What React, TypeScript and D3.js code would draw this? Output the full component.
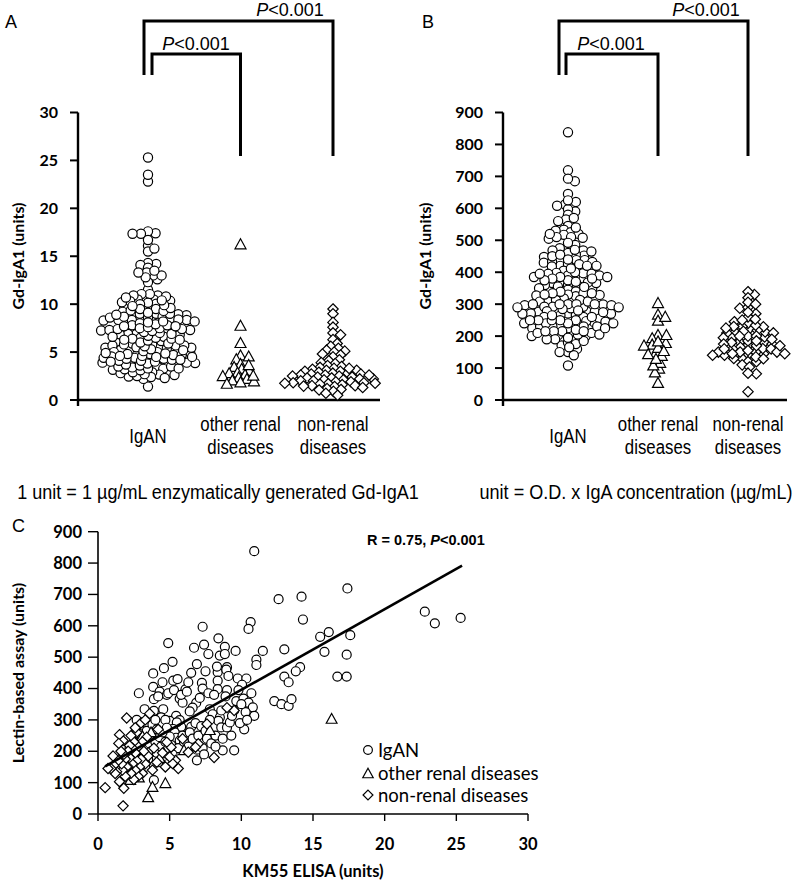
import React from "react";
import * as d3 from "d3";

// ---------------- DATA ----------------
const categories = ["IgAN", "other renal diseases", "non-renal diseases"];
const categoryLines = [["IgAN"], ["other renal", "diseases"], ["non-renal", "diseases"]];

// IgAN patients: KM55 ELISA (units) and lectin-based assay (units)
const igaKM55 = [
  10.9, 17.4, 12.6, 14.2, 14.3, 10.65, 10.5, 7.3, 16.1, 15.5, 17.6, 8.4, 4.9, 8.85, 13.0, 11.5, 15.8, 17.35, 8.5, 8.85,
  5.2, 6.9, 11.05, 11.05, 9.0, 8.35, 14.1, 13.8, 16.7, 17.35, 13.0, 13.3, 3.85, 5.25, 5.55, 9.75, 10.35, 8.35, 3.85, 2.85,
  4.3, 4.8, 6.1, 7.25, 7.3, 8.35, 9.0, 8.95, 10.05, 3.9, 5.7, 5.9, 12.3, 12.8, 13.3, 13.5, 9.65, 10.15, 10.5, 10.8,
  10.9, 10.3, 10.0, 9.5, 10.2, 9.5, 8.7, 6.9, 7.3, 6.5, 6.15, 5.8, 7.8, 8.0, 8.5, 8.4, 8.6, 9.0, 9.2, 9.35,
  6.85, 6.6, 6.4, 5.45, 5.7, 5.0, 5.5, 5.25, 4.95, 5.35, 5.45, 5.7, 5.0, 4.55, 4.4, 4.3, 3.9, 3.55, 3.25, 3.15,
  3.5, 2.65, 2.9, 2.45, 22.8, 23.5, 25.3,
  1.4, 2.2, 2.4, 2.5, 2.6, 2.7, 2.8, 2.9, 2.3, 3.1, 3.2, 3.3, 3.4, 3.5, 3.6, 3.7, 3.8, 3.9, 3.3,
  4.0, 4.1, 4.1, 4.2, 4.3, 4.4, 4.5, 4.5, 4.6, 4.7, 4.7, 4.8, 4.85, 4.9, 4.2, 4.6, 4.0,
  5.1, 5.3, 5.6, 5.8, 5.9, 5.2, 6.0, 6.2, 6.3, 6.4, 6.5, 6.6, 6.7, 6.8, 6.9, 6.3,
  7.0, 7.1, 7.2, 7.3, 7.4, 7.5, 7.5, 7.6, 7.7, 7.8, 7.9, 7.4, 7.7,
  8.1, 8.2, 8.3, 8.6, 8.7, 8.9, 8.2, 9.1, 9.3, 9.6, 9.8, 9.9, 10.4, 10.7,
];
const igaLectin = [
  838, 719, 685, 693, 620, 612, 590, 597, 580, 565, 570, 560, 545, 533, 525, 520, 517, 508, 505, 510,
  485, 478, 492, 475, 468, 452, 468, 455, 438, 438, 438, 420, 448, 425, 430, 432, 432, 425, 405, 385,
  390, 380, 397, 418, 400, 398, 395, 460, 412, 366, 368, 355, 360, 350, 345, 366, 360, 368, 355, 340,
  313, 325, 350, 330, 270, 203, 203, 171, 234, 278, 255, 278, 334, 318, 308, 297, 276, 276, 292, 313,
  354, 339, 327, 313, 299, 297, 292, 271, 266, 260, 243, 234, 247, 334, 308, 287, 329, 308, 334, 292,
  278, 271, 255, 250, 645, 608, 625,
  150, 210, 180, 230, 160, 300, 200, 225, 140, 190, 240, 215, 265, 175, 225, 200, 285, 108, 150,
  230, 270, 195, 375, 245, 215, 260, 420, 185, 300, 230, 275, 205, 385, 165, 465, 300,
  220, 395, 210, 380, 250, 190, 230, 390, 215, 260, 450, 240, 530, 290, 205, 420,
  250, 370, 280, 210, 540, 455, 265, 240, 385, 300, 225, 190, 510,
  380, 250, 470, 330, 240, 375, 215, 440, 250, 520, 395, 290, 300, 385,
];

// Other renal diseases
const otherKM55 = [16.3, 7.8, 6.0, 4.7, 4.6, 4.3, 3.8, 3.5, 3.3, 3.1, 2.9, 2.85, 2.7, 2.55, 2.4, 2.25, 2.1, 2.0, 1.9, 1.75, 3.7, 2.6];
const otherLectin = [305, 269, 205, 100, 195, 180, 88, 55, 175, 250, 150, 118, 165, 140, 185, 110, 130, 155, 172, 145, 262, 205];

// Non-renal diseases
const nonKM55 = [
  9.5, 9.0, 8.1, 7.6, 7.0, 6.8, 6.3, 5.9, 5.6, 5.4, 5.2, 5.1, 5.0, 4.8, 4.7, 4.5, 4.2, 4.1, 3.9, 3.8,
  3.6, 3.5, 3.4, 3.3, 3.2, 3.1, 3.1, 3.0, 3.0, 2.9, 2.8, 2.8, 2.7, 2.7, 2.6, 2.6, 2.5, 2.5, 2.4, 2.4,
  2.3, 2.3, 2.2, 2.2, 2.1, 2.1, 2.0, 2.0, 1.9, 1.9, 1.8, 1.8, 1.75, 1.74, 1.7, 1.65, 1.6, 1.5, 1.5, 1.4,
  1.3, 1.2, 1.1, 1.05, 0.9, 0.7, 0.5, 2.6, 3.3, 1.45,
];
const nonLectin = [
  330, 339, 180, 287, 224, 213, 197, 240, 145, 171, 161, 213, 182, 229, 150, 195, 270, 165, 210, 140,
  320, 185, 245, 160, 200, 130, 230, 175, 290, 150, 215, 120, 260, 170, 140, 195, 230, 110, 160, 210,
  130, 250, 180, 218, 150, 200, 306, 150, 120, 175, 82, 190, 26, 234, 140, 160, 200, 103, 253, 170,
  135, 129, 155, 185, 145, 145, 84, 275, 300, 225,
];

// regression line of panel C
const regIntercept = 139;
const regSlope = 25.7;
const regXRange = [0.5, 25.4];

const ticksA = [0, 5, 10, 15, 20, 25, 30];
const ticksB = [0, 100, 200, 300, 400, 500, 600, 700, 800, 900];
const ticksCx = [0, 5, 10, 15, 20, 25, 30];
const ticksCy = [0, 100, 200, 300, 400, 500, 600, 700, 800, 900];

// ---------------- HELPERS ----------------
const CAL = "Lato, 'Open Sans', sans-serif";
const ARIAL = "'Liberation Sans', Arial, sans-serif";

// greedy beeswarm with an elliptical collision (rows may overlap vertically)
function swarm(values: number[], y: (v: number) => number, cx: number, d: number, k: number) {
  const pts = values.map((v, i) => ({ i, y: y(v), x: 0 }));
  const order = pts.slice().sort((a, b) => a.y - b.y);
  const placed: { x: number; y: number }[] = [];
  for (const p of order) {
    const cands = [0];
    for (const q of placed) {
      const dy = Math.abs(q.y - p.y) * k;
      if (dy < d) {
        const dx = Math.sqrt(d * d - dy * dy);
        cands.push(q.x + dx, q.x - dx);
      }
    }
    cands.sort((a, b) => Math.abs(a) - Math.abs(b));
    for (const c of cands) {
      if (placed.every((q) => (q.x - c) ** 2 + ((q.y - p.y) * k) ** 2 >= d * d - 0.01)) {
        p.x = c;
        break;
      }
    }
    placed.push(p);
  }
  return pts.map((p) => ({ x: cx + p.x, y: p.y }));
}

function Marker({ kind, x, y, s = 1 }: { kind: number; x: number; y: number; s?: number }) {
  const st = { fill: "white", stroke: "black", strokeWidth: 1.2 };
  if (kind === 0) return <circle cx={x} cy={y} r={4.6 * s} {...st} />;
  if (kind === 1) {
    const w = 5.5 * s, h = 5 * s;
    return <path d={`M${x},${y - h}L${x + w},${y + h}L${x - w},${y + h}Z`} {...st} />;
  }
  const r = 5.2 * s;
  return <path d={`M${x},${y - r}L${x + r},${y}L${x},${y + r}L${x - r},${y}Z`} {...st} />;
}

function NarrowText({ x, y, children, size = 21, sx = 0.8 }: { x: number; y: number; children: React.ReactNode; size?: number; sx?: number }) {
  return (
    <text transform={`translate(${x},${y}) scale(${sx},1)`} textAnchor="middle" fontFamily={ARIAL} fontSize={size}>
      {children}
    </text>
  );
}

function DotPanel(props: {
  letter: string; letterX: number; axisX: number; axisEnd: number; domainMax: number; ticks: number[];
  catRange: [number, number]; series: number[][]; leftTall: number; leftShort: number;
  pShort: number; pTall: number; ylabelX: number; footnote: string; footX: number;
}) {
  const y = d3.scaleLinear().domain([0, props.domainMax]).range([400, 112.5]);
  const x = d3.scalePoint<string>().domain(categories).range(props.catRange);
  const swarms = props.series.map((vals, k) => swarm(vals, y, x(categories[k])!, 8.4, 1.9));
  const xOther = x(categories[1])!;
  const xNon = x(categories[2])!;
  return (
    <g>
      <text x={props.letterX} y={28} fontFamily={ARIAL} fontSize={18}>{props.letter}</text>
      {/* brackets */}
      <path d={`M${props.leftTall},75V21H${xNon}V156`} fill="none" stroke="black" strokeWidth={3} />
      <path d={`M${props.leftShort},75V54H${xOther}V156`} fill="none" stroke="black" strokeWidth={3} />
      <text x={props.pShort} y={50} textAnchor="middle" fontFamily={ARIAL} fontSize={18}>
        <tspan fontStyle="italic">P</tspan>&lt;0.001
      </text>
      <text x={props.pTall} y={16} textAnchor="middle" fontFamily={ARIAL} fontSize={18}>
        <tspan fontStyle="italic">P</tspan>&lt;0.001
      </text>
      {/* axes */}
      <line x1={props.axisX} x2={props.axisX} y1={112.5} y2={406} stroke="black" strokeWidth={2.4} />
      <line x1={props.axisX} x2={props.axisEnd} y1={400} y2={400} stroke="black" strokeWidth={2.6} />
      {props.ticks.map((t) => (
        <g key={t}>
          <line x1={props.axisX - 8} x2={props.axisX} y1={y(t)} y2={y(t)} stroke="black" strokeWidth={2} />
          <text x={props.axisX - 20} y={y(t)} dy="0.36em" textAnchor="end" fontFamily={CAL} fontWeight="bold" fontSize={16}>{t}</text>
        </g>
      ))}
      <text transform={`translate(${props.ylabelX},256) rotate(-90)`} textAnchor="middle" fontFamily={CAL} fontWeight="bold" fontSize={16}>Gd-IgA1 (units)</text>
      {/* markers */}
      {swarms.map((pts, k) => pts.map((p, i) => <Marker key={`${k}-${i}`} kind={k} x={p.x} y={p.y} />))}
      {/* category labels */}
      {categoryLines.map((lines, k) => (
        <g key={k}>
          {lines.map((l, j) => (
            <NarrowText key={j} x={x(categories[k])!} y={lines.length === 1 ? 443 : 431 + j * 23}>{l}</NarrowText>
          ))}
        </g>
      ))}
      <NarrowText x={props.footX} y={499} size={21} sx={0.86}>{props.footnote}</NarrowText>
    </g>
  );
}

function ScatterC() {
  const x = d3.scaleLinear().domain([0, 30]).range([98, 528]);
  const y = d3.scaleLinear().domain([0, 900]).range([814, 531.7]);
  const sets = [
    [igaKM55, igaLectin],
    [otherKM55, otherLectin],
    [nonKM55, nonLectin],
  ];
  const line = d3.line<number>().x((v) => x(v)).y((v) => y(regIntercept + regSlope * v));
  const legendY = [750, 773, 795];
  return (
    <g>
      <text x={12} y={532} fontFamily={ARIAL} fontSize={18}>C</text>
      <line x1={98} x2={98} y1={531.7} y2={814} stroke="black" strokeWidth={1.6} />
      <line x1={98} x2={528} y1={814} y2={814} stroke="black" strokeWidth={1.6} />
      {ticksCy.map((t) => (
        <g key={t}>
          <line x1={88} x2={98} y1={y(t)} y2={y(t)} stroke="black" strokeWidth={1.4} />
          <text x={82} y={y(t)} dy="0.36em" textAnchor="end" fontFamily={CAL} fontWeight="bold" fontSize={16.5}>{t}</text>
        </g>
      ))}
      {ticksCx.map((t) => (
        <g key={t}>
          <line x1={x(t)} x2={x(t)} y1={814} y2={821} stroke="black" strokeWidth={1.4} />
          <text x={x(t)} y={850} textAnchor="middle" fontFamily={CAL} fontWeight="bold" fontSize={16.5}>{t}</text>
        </g>
      ))}
      <text transform="translate(24,673) rotate(-90)" textAnchor="middle" fontFamily={CAL} fontWeight="bold" fontSize={16}>Lectin-based assay (units)</text>
      <text x={313} y={877} textAnchor="middle" fontFamily={CAL} fontWeight="bold" fontSize={16.5}>KM55 ELISA (units)</text>
      {sets.map(([xs, ys], k) => xs.map((v, i) => <Marker key={`${k}-${i}`} kind={k} x={x(v)} y={y(ys[i])} s={0.98} />))}
      <path d={line(regXRange) || ""} fill="none" stroke="black" strokeWidth={2.6} />
      <text x={367} y={545} fontFamily={ARIAL} fontWeight="bold" fontSize={14.5}>
        R = 0.75, <tspan fontStyle="italic">P</tspan>&lt;0.001
      </text>
      {categories.map((c, k) => (
        <g key={c}>
          <Marker kind={k} x={368} y={legendY[k]} s={0.95} />
          <text x={378} y={legendY[k]} dy="0.36em" fontFamily={CAL} fontSize={18.5}>{c}</text>
        </g>
      ))}
    </g>
  );
}

export default function App() {
  return (
    <svg width={800} height={882} style={{ position: "absolute", left: 0, top: 0, background: "white" }}>
      <rect width={800} height={882} fill="white" />
      <DotPanel letter="A" letterX={5} axisX={78} axisEnd={380} domainMax={30} ticks={ticksA}
        catRange={[148, 333]} series={[igaKM55, otherKM55, nonKM55]} leftTall={144} leftShort={152}
        pShort={196} pTall={290} ylabelX={24} footnote="1 unit  = 1 µg/mL enzymatically generated Gd-IgA1" footX={218} />
      <DotPanel letter="B" letterX={422} axisX={503} axisEnd={787} domainMax={900} ticks={ticksB}
        catRange={[568, 748]} series={[igaLectin, otherLectin, nonLectin]} leftTall={559} leftShort={566}
        pShort={611} pTall={706} ylabelX={431} footnote="unit  = O.D. x IgA concentration (µg/mL)" footX={636} />
      <ScatterC />
    </svg>
  );
}
